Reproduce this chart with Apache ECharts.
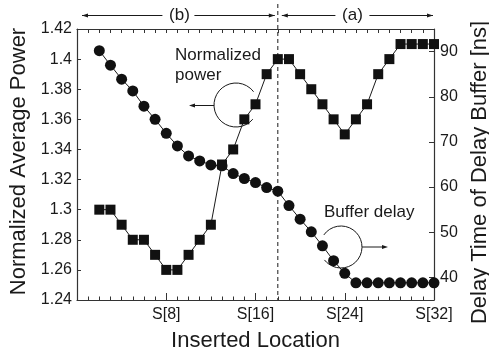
<!DOCTYPE html>
<html>
<head>
<meta charset="utf-8">
<script src="https://cdn.jsdelivr.net/npm/echarts@6/dist/echarts.min.js"></script>
<style>
html,body{margin:0;padding:0;background:#fff;}
#chart{width:489px;height:350px;}
</style>
</head>
<body>
<div id="chart"></div>
<script>
// ---- data ----
const positions = [2,3,4,5,6,7,8,9,10,11,12,13,14,15,16,17,18,19,20,21,22,23,24,25,26,27,28,29,30,31,32];
const normalizedPower = [1.30,1.30,1.29,1.28,1.28,1.27,1.26,1.26,1.27,1.28,1.29,1.33,1.34,1.36,1.37,1.39,1.40,1.40,1.39,1.38,1.37,1.36,1.35,1.36,1.37,1.39,1.40,1.41,1.41,1.41,1.41];
const bufferDelay = [90.2,87.0,83.9,81.3,77.9,75.0,71.9,69.1,66.9,65.8,64.9,64.7,63.0,61.9,61.0,59.9,59.1,55.9,52.9,50.1,47.0,43.7,40.9,38.8,38.8,38.8,38.8,38.8,38.8,38.8,38.8];
const xTickLabels = ['S[8]','S[16]','S[24]','S[32]'];
const xTickValues = [8,16,24,32];
const rightTicks = [40,50,60,70,80,90];
const dividerPosition = 18;

const FONT = 'Liberation Sans, Arial, Helvetica, sans-serif';
const INK = '#1a1a1a';
const AX = '#333';

const chart = echarts.init(document.getElementById('chart'), null, {renderer:'canvas'});

const powerData = positions.map((p,i)=>[p, normalizedPower[i]]);
const delayData = positions.map((p,i)=>[p, bufferDelay[i]]);

const option = {
  animation:false,
  backgroundColor:'#fff',
  grid:{left:77,right:55,top:29,bottom:50,containLabel:false,outerBoundsMode:'none'},
  xAxis:[{
    type:'value',min:0,max:32,interval:8,position:'bottom',
    axisLine:{show:true,onZero:false,lineStyle:{color:AX,width:1.2}},
    axisTick:{show:true,inside:true,length:7,lineStyle:{color:AX}},
    minorTick:{show:true,splitNumber:8,length:3.5,lineStyle:{color:AX}},
    splitLine:{show:false},minorSplitLine:{show:false},
    axisLabel:{fontSize:16,color:INK,fontFamily:FONT,margin:7,
      formatter:v=>{const k=xTickValues.indexOf(v);return k>=0?xTickLabels[k]:'';}},
    name:'Inserted Location',nameLocation:'middle',nameGap:30,
    nameTextStyle:{fontSize:22,color:INK,fontFamily:FONT}
  },{
    type:'value',min:0,max:32,interval:8,position:'top',
    axisLine:{show:true,onZero:false,lineStyle:{color:AX,width:1.2}},
    axisTick:{show:true,inside:true,length:4,lineStyle:{color:AX}},
    minorTick:{show:true,splitNumber:8,length:4,lineStyle:{color:AX}},
    splitLine:{show:false},axisLabel:{show:false}
  }],
  yAxis:[{
    type:'value',min:1.24,max:1.42,interval:0.02,position:'left',
    axisLine:{show:true,onZero:false,lineStyle:{color:AX,width:1.2}},
    axisTick:{show:true,inside:true,length:4,lineStyle:{color:AX}},
    splitLine:{show:false},
    axisLabel:{fontSize:16,color:INK,fontFamily:FONT,margin:5,
      formatter:v=>String(+v.toFixed(2))},
    name:'Normalized Average Power',nameLocation:'middle',nameRotate:90,nameGap:42,
    nameTextStyle:{fontSize:22,color:INK,fontFamily:FONT,padding:[0,0,0,6]}
  },{
    type:'value',min:35,max:95,position:'right',
    axisLine:{show:true,onZero:false,lineStyle:{color:AX,width:1.2}},
    axisTick:{show:true,inside:true,length:5,customValues:rightTicks,lineStyle:{color:AX}},
    splitLine:{show:false},
    axisLabel:{fontSize:16,color:INK,fontFamily:FONT,margin:6,customValues:rightTicks},
    name:'Delay Time of Delay Buffer [ns]',nameLocation:'middle',nameRotate:90,nameGap:27,
    nameTextStyle:{fontSize:22,color:INK,fontFamily:FONT,padding:[0,16,0,0]}
  }],
  series:[{
    name:'Buffer delay',type:'line',xAxisIndex:0,yAxisIndex:1,data:delayData,
    symbol:'circle',symbolSize:11,
    lineStyle:{color:INK,width:1},itemStyle:{color:'#111'},z:2
  },{
    name:'Normalized power',type:'line',xAxisIndex:0,yAxisIndex:0,data:powerData,
    symbol:'rect',symbolSize:10,
    lineStyle:{color:INK,width:1},itemStyle:{color:'#111'},z:3
  }]
};
chart.setOption(option);

// ---- annotations ----
function arrowHead(x,y,dir,len,hw){
  return {type:'polygon',shape:{points:[[x,y],[x-dir*len,y-hw],[x-dir*len,y+hw]]},style:{fill:INK},silent:true};
}
const divX = chart.convertToPixel({xAxisIndex:0},dividerPosition);
const xLeft = chart.convertToPixel({xAxisIndex:0},0);
const xRight = chart.convertToPixel({xAxisIndex:0},32);
const yBottom = chart.convertToPixel({yAxisIndex:0},1.24);
const arrowY = 15.5;
const ls = {stroke:INK,lineWidth:1};
const g = [];
// dashed divider
g.push({type:'line',shape:{x1:divX,y1:4,x2:divX,y2:yBottom},style:{stroke:INK,lineWidth:1,lineDash:[4,3]},silent:true});
// (b) arrow
const bL = xLeft+5, bR = divX-3;
const bC = (bL+bR)/2+1;
g.push({type:'line',shape:{x1:bL,y1:arrowY,x2:bC-17,y2:arrowY},style:ls});
g.push({type:'line',shape:{x1:bC+15,y1:arrowY,x2:bR,y2:arrowY},style:ls});
g.push(arrowHead(bL,arrowY,-1,6,2));
g.push(arrowHead(bR,arrowY,1,6,2));
g.push({type:'text',x:bC,y:arrowY,style:{text:'(b)',font:'17px '+FONT,fill:INK,align:'center',verticalAlign:'middle'}});
// (a) arrow
const aL = divX+4, aR = xRight-1;
const aC = (aL+aR)/2-5;
g.push({type:'line',shape:{x1:aL,y1:arrowY,x2:aC-17,y2:arrowY},style:ls});
g.push({type:'line',shape:{x1:aC+17,y1:arrowY,x2:aR,y2:arrowY},style:ls});
g.push(arrowHead(aL,arrowY,-1,6,2));
g.push(arrowHead(aR,arrowY,1,6,2));
g.push({type:'text',x:aC,y:arrowY,style:{text:'(a)',font:'17px '+FONT,fill:INK,align:'center',verticalAlign:'middle'}});
// Normalized power annotation
const d2r = Math.PI/180;
g.push({type:'text',x:175,y:55,style:{text:'Normalized',font:'17px '+FONT,fill:INK,align:'left',verticalAlign:'middle'}});
g.push({type:'text',x:175,y:75,style:{text:'power',font:'17px '+FONT,fill:INK,align:'left',verticalAlign:'middle'}});
g.push({type:'arc',shape:{cx:236,cy:105,r:22,startAngle:40*d2r,endAngle:323*d2r,clockwise:true},style:{stroke:INK,lineWidth:1,fill:null}});
g.push({type:'line',shape:{x1:214,y1:105.5,x2:193,y2:105.5},style:ls});
g.push(arrowHead(189,105.5,-1,6,2));
// Buffer delay annotation
g.push({type:'text',x:324,y:212,style:{text:'Buffer delay',font:'17px '+FONT,fill:INK,align:'left',verticalAlign:'middle'}});
g.push({type:'arc',shape:{cx:341,cy:247,r:21,startAngle:-145*d2r,endAngle:142*d2r,clockwise:true},style:{stroke:INK,lineWidth:1,fill:null}});
g.push({type:'line',shape:{x1:362,y1:247,x2:384,y2:247},style:ls});
g.push(arrowHead(388,247,1,6,2));
chart.setOption({graphic:g});
</script>
</body>
</html>
